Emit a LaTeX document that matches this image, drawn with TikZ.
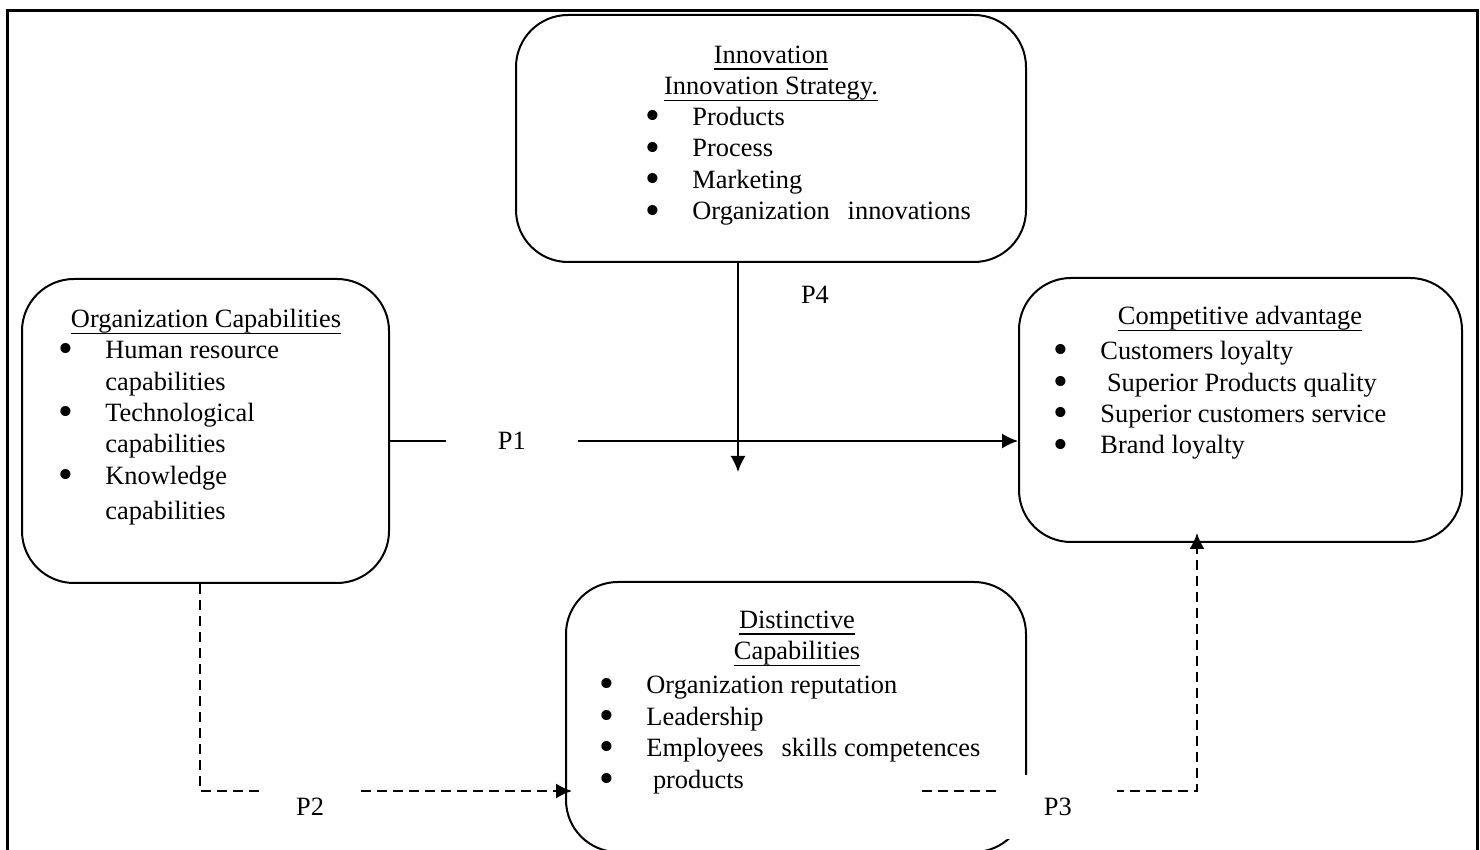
\documentclass[tikz,border=0pt]{standalone}
\usepackage{fontspec}
\setmainfont{Liberation Serif}
\usetikzlibrary{arrows.meta,fit,positioning}
\tikzset
{
    box/.style      = {rectangle, rounded corners=26pt, draw=black, line width=1pt, inner sep=0pt},
    title/.style    = {align=center, inner sep=0pt, anchor=base},
    items/.style    = {align=left, inner sep=0pt, anchor=base west},
    plabel/.style   = {fill=white, inner sep=0pt, minimum width=#1, minimum height=32pt},
    arrow/.style    = {line width=0.9pt, -{Latex[length=8pt,width=7.5pt]}},
    dasharrow/.style= {arrow, dash pattern=on 5pt off 3pt}
}
\newcommand\bul{\makebox[23.5pt][l]{\raisebox{-2.2pt}{\scalebox{1.6}{\textbullet}}}}
\newcommand\ulin[1]{\setbox0\hbox{#1}\rlap{\rule[-3.2pt]{\wd0}{0.9pt}}\box0}

\begin{document}
\begin{tikzpicture}[x=0.5pt, y=-0.5pt, font=\fontsize{13.2}{15.75}\selectfont]

   \useasboundingbox (0,0) rectangle (1480,850);
   \clip (0,0) rectangle (1480,850);

   % outer frame
   \draw[line width=1.5pt] (7,880) -- (7,11) -- (1477,11) -- (1477,880);

   % boxes
   \node (innov) [box, fit={(516,15) (1026,262)}]  {};
   \node (org)   [box, fit={(22,279) (389,583)}]   {};
   \node (comp)  [box, fit={(1019,278) (1462,542)}] {};
   \node (dist)  [box, fit={(566,582) (1026,852)}] {};

   % texts (base = last line)
   \node (innovtitle) [title] at (771,95) {\ulin{Innovation}\\\ulin{Innovation Strategy.}};
   \node (innovlist)  [items] at (645,220) {\bul Products\\\bul Process\\\bul Marketing\\\bul Organization\hspace{9pt}innovations};

   \node (orgtitle) [title] at (206,328) {\ulin{Organization Capabilities}};
   \node (orglist)  [items] at (58,520) {\bul Human resource\\\hspace*{23.5pt}capabilities\\\bul Technological\\\hspace*{23.5pt}capabilities\\\bul Knowledge\\[2pt]\hspace*{23.5pt}capabilities};

   \node (comptitle) [title] at (1240,325) {\ulin{Competitive advantage}};
   \node (complist)  [items] at (1053,454) {\bul Customers loyalty\\\bul\ Superior Products quality\\\bul Superior customers service\\\bul Brand loyalty};

   \node (disttitle) [title] at (797,660) {\ulin{Distinctive}\\\ulin{Capabilities}};
   \node (distlist)  [items] at (599,788) {\bul Organization reputation\\\bul Leadership\\\bul Employees\hspace{9pt}skills competences\\\bul\ products};

   % P1
   \draw[arrow] ([yshift=-5pt]org.east) -- node (p1) [plabel=66pt, pos=0.194] {P1} ([yshift=-5pt]org.east -| comp.west);

   % P4
   \coordinate (p4end) at (738,472);
   \draw[arrow] (innov.south -| p4end) -- (p4end);
   \node (p4) at (815,295) {P4};

   % P2
   \draw[dasharrow] ([xshift=-2.75pt]org.south) |- node (p2) [plabel=49pt, pos=0.648, yshift=-8pt] {P2} ([xshift=3.5pt,yshift=-37pt]dist.west);

   % P3
   \coordinate (p3start) at (922,791);
   \draw[dasharrow] (p3start) -| node (p3) [plabel=59pt, pos=0.247, yshift=-8pt] {P3} ([xshift=-21.75pt,yshift=5pt]comp.south);

\end{tikzpicture}
\end{document}
